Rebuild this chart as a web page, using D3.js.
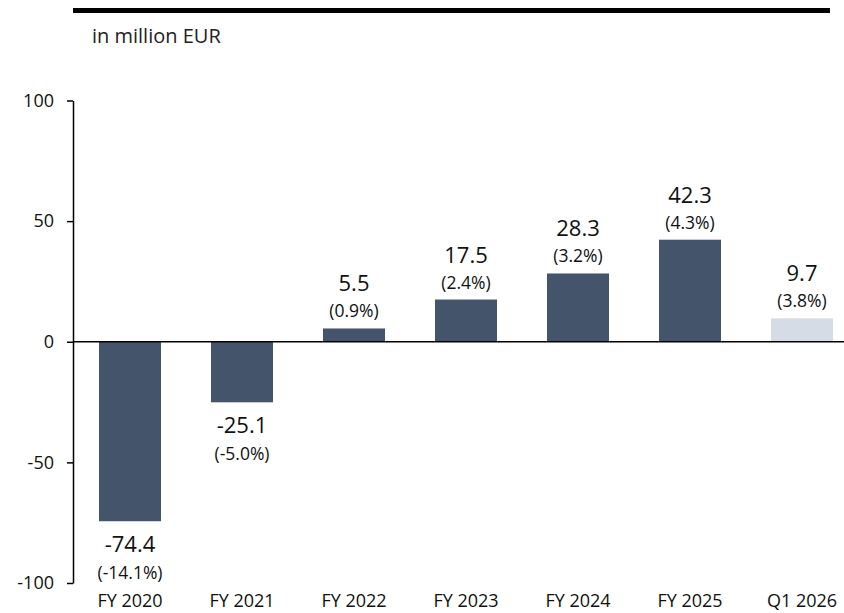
<!DOCTYPE html>
<html>
<head>
<meta charset="utf-8">
<script src="https://cdn.jsdelivr.net/npm/d3@7"></script>
<style>
  body { margin: 0; background: #fff; }
  text { font-family: "Open Sans", "Noto Sans", sans-serif; }
</style>
</head>
<body>
<div id="chart"></div>
<script>
// chart data
const categories = ["FY 2020", "FY 2021", "FY 2022", "FY 2023", "FY 2024", "FY 2025", "Q1 2026"];
const values = [-74.4, -25.1, 5.5, 17.5, 28.3, 42.3, 9.7];
const margins = ["(-14.1%)", "(-5.0%)", "(0.9%)", "(2.4%)", "(3.2%)", "(4.3%)", "(3.8%)"];
const barColors = ["#44546a", "#44546a", "#44546a", "#44546a", "#44546a", "#44546a", "#d6dce5"];
const yTicks = [-100, -50, 0, 50, 100];

const width = 844, height = 613;

const svg = d3.select("#chart")
  .append("svg")
  .attr("width", width)
  .attr("height", height);

// black rule on top + unit note
svg.append("rect")
  .attr("x", 73).attr("y", 8)
  .attr("width", 757).attr("height", 5)
  .attr("fill", "#000");

svg.append("text")
  .attr("x", 92).attr("y", 43)
  .attr("font-size", 20)
  .attr("letter-spacing", 0)
  .attr("fill", "#222")
  .text("in million EUR");

const x = d3.scaleBand()
  .domain(categories)
  .range([74, 858])
  .paddingInner(0.446)
  .paddingOuter(0.223);

const y = d3.scaleLinear().domain([-100, 100]).range([583, 100.5]);

// y axis, hyphen minus like the original
svg.append("g")
  .attr("transform", "translate(73,0)")
  .call(d3.axisLeft(y).tickValues(yTicks).tickFormat((d) => String(d))
    .tickSize(6).tickSizeOuter(0).tickPadding(13))
  .call((g) => g.select(".domain").attr("stroke", "#000").attr("stroke-width", 1.5))
  .call((g) => g.selectAll(".tick line").attr("stroke", "#000").attr("stroke-width", 1.5))
  .call((g) => g.selectAll(".tick text")
    .attr("font-size", 18)
    .attr("fill", "#111")
    .style("font-family", "'Open Sans', 'Noto Sans', sans-serif"));

// bars
svg.append("g")
  .selectAll("rect")
  .data(values)
  .join("rect")
  .attr("x", (d, i) => x(categories[i]))
  .attr("width", x.bandwidth())
  .attr("y", (d) => y(Math.max(0, d)))
  .attr("height", (d) => Math.abs(y(d) - y(0)))
  .attr("fill", (d, i) => barColors[i]);

// zero line
svg.append("line")
  .attr("x1", 73).attr("x2", width)
  .attr("y1", y(0)).attr("y2", y(0))
  .attr("stroke", "#000")
  .attr("stroke-width", 1.5);

// value labels
const labels = svg.append("g")
  .selectAll("g")
  .data(values)
  .join("g")
  .attr("transform", (d, i) => `translate(${x(categories[i]) + x.bandwidth() / 2},0)`);

labels.append("text")
  .attr("text-anchor", "middle")
  .attr("font-size", 22)
  .attr("fill", "#111")
  .attr("y", (d) => d >= 0 ? y(d) - 37 : y(d) + 31)
  .text((d) => d.toFixed(1));

labels.append("text")
  .attr("text-anchor", "middle")
  .attr("font-size", 17.5)
  .attr("fill", "#111")
  .attr("y", (d) => d >= 0 ? y(d) - 11 : y(d) + 58)
  .text((d, i) => margins[i]);

// category labels
svg.append("g")
  .selectAll("text")
  .data(categories)
  .join("text")
  .attr("x", (d) => x(d) + x.bandwidth() / 2)
  .attr("y", 607)
  .attr("text-anchor", "middle")
  .attr("font-size", 18)
  .attr("fill", "#111")
  .text((d) => d);
</script>
</body>
</html>
